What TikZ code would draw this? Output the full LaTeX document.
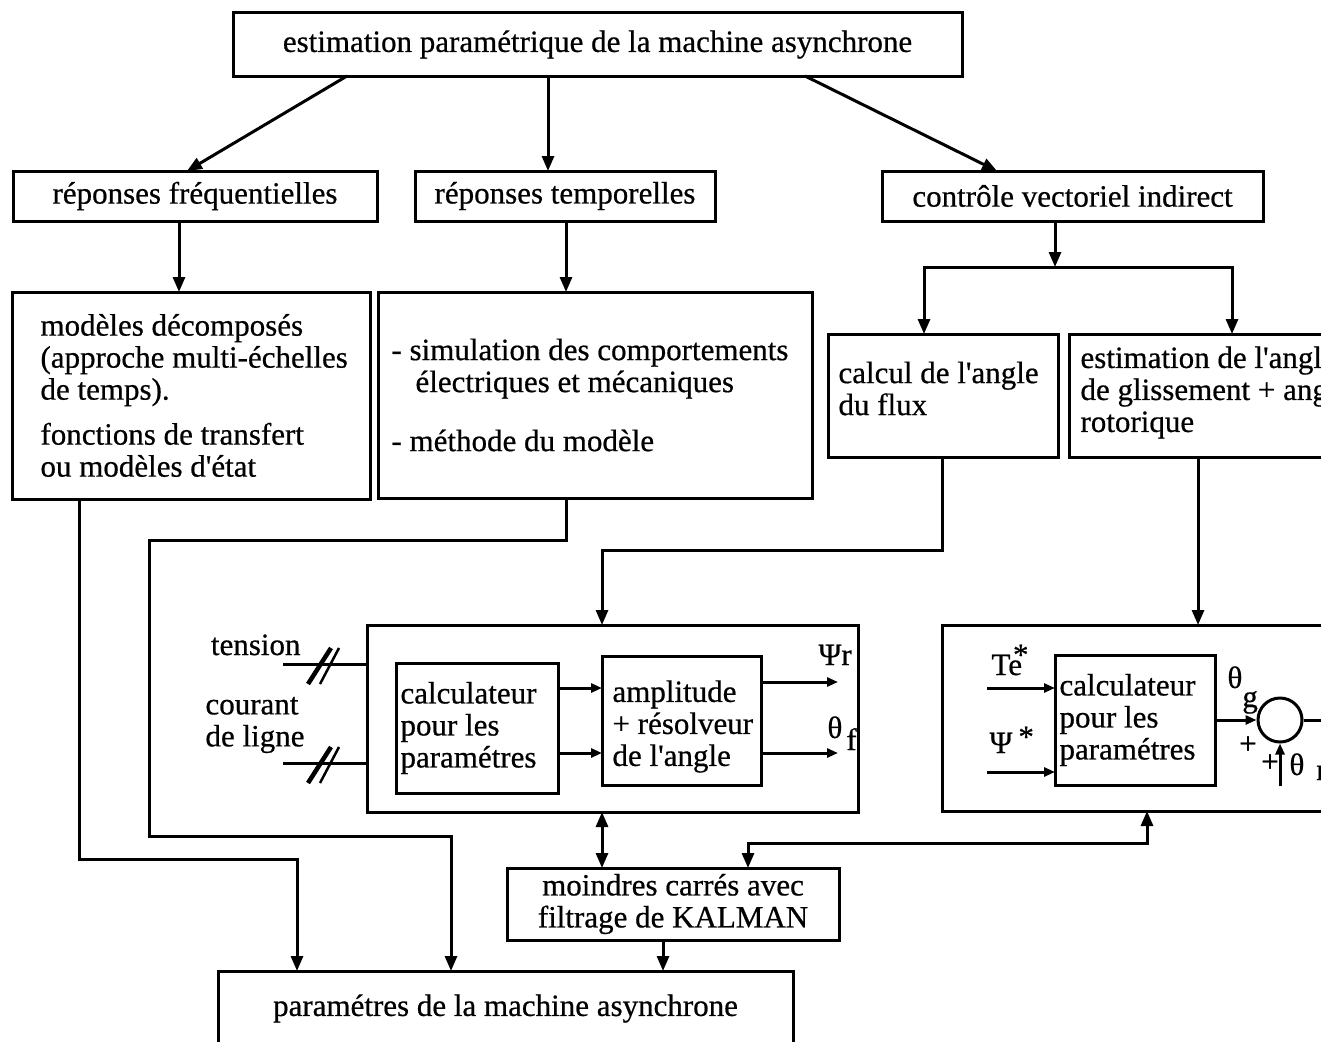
\documentclass[tikz,border=0pt]{standalone}
\usepackage{fontspec}
\setmainfont{Liberation Serif}[Ligatures=TeXOff,FakeBold=0.6]
\usetikzlibrary{arrows.meta}

\begin{document}
\begin{tikzpicture}[->,>={Triangle[length=15pt,width=12pt]},x=1pt,y=-1pt,
    line width=3pt,font=\fontsize{31}{32}\selectfont,
    box/.style={draw,rectangle,inner sep=0pt,outer sep=0pt,anchor=north west,align=center},
    inside/.style={anchor=west,align=left,inner sep=0pt},
    lbl/.style={inner sep=0pt},
    small/.style={>={Triangle[length=11pt,width=9pt]}}]

  \useasboundingbox (0,0) rectangle (1321,1041);

  % top and first level
  \node[box,minimum width=729pt,minimum height=63pt] (est) at (233,13) {estimation paramétrique de la machine asynchrone};
  \node[box,minimum width=364pt,minimum height=50pt] (freq) at (13,171) {réponses fréquentielles};
  \node[box,minimum width=300pt,minimum height=50pt] (temp) at (415,171) {réponses temporelles};
  \node[box,minimum width=381pt,minimum height=50pt] (ctrl) at (882,171) {contrôle vectoriel indirect};

  % second level
  \node[box,minimum width=358pt,minimum height=207pt,
    label={[inside,xshift=27pt]west:{modèles décomposés\\(approche multi-échelles\\de temps).\\[13pt]fonctions de transfert\\ou modèles d'état}}] (modeles) at (12,292) {};
  \node[box,minimum width=434pt,minimum height=206pt,
    label={[inside,xshift=12pt]west:{- simulation des comportements\\\hspace*{24pt}électriques et mécaniques\\[27pt]- méthode du modèle}}] (simul) at (378,292) {};
  \node[box,minimum width=230pt,minimum height=123pt,
    label={[inside,xshift=9pt,yshift=7pt]west:{calcul de l'angle\\du flux}}] (flux) at (828,334) {};
  \node[box,minimum width=400pt,minimum height=123pt,
    label={[inside,xshift=10pt,yshift=3pt]west:{estimation de l'angle\\de glissement + angle\\rotorique}}] (glis) at (1069,334) {};

  % flux observer
  \node[box,minimum width=491pt,minimum height=187pt] (obsL) at (367,625) {};
  \node[box,minimum width=162pt,minimum height=130pt,
    label={[inside,xshift=3pt]west:{calculateur\\pour les\\paramétres}}] (calcL) at (396,663) {};
  \node[box,minimum width=159pt,minimum height=129pt,
    label={[inside,xshift=9pt,yshift=-6pt]west:{amplitude\\+ résolveur\\de l'angle}}] (ampl) at (602,656) {};

  % slip angle block
  \node[box,minimum width=500pt,minimum height=186pt] (obsR) at (942,625) {};
  \node[box,minimum width=160pt,minimum height=130pt,
    label={[inside,xshift=3pt]west:{calculateur\\pour les\\paramétres}}] (calcR) at (1055,655) {};
  \node[draw,circle,minimum size=44pt,inner sep=0pt] (sum) at (1280,720) {};

  \node[box,minimum width=332pt,minimum height=72pt] (kalman) at (507,868) {moindres carrés avec\\filtrage de KALMAN};
  \node[box,minimum width=575pt,minimum height=75pt] (param) at (218,971) {paramétres de la machine asynchrone};

  % tree
  \draw ([xshift=114pt]est.south west) -- ([xshift=174pt]freq.north west);
  \draw ([xshift=315pt]est.south west) -- ([xshift=133pt]temp.north west);
  \draw ([xshift=572pt]est.south west) -- ([xshift=115pt]ctrl.north west);
  \draw ([xshift=166pt]freq.south west) -- ([xshift=167pt]modeles.north west);
  \draw ([xshift=151pt]temp.south west) -- ([xshift=188pt]simul.north west);

  \coordinate (fork) at (1055,267);
  \draw ([xshift=173pt]ctrl.south west) -- (fork);
  \draw (fork) -| ([xshift=96pt]flux.north west);
  \draw (fork) -| ([xshift=163pt]glis.north west);

  \draw ([xshift=114pt]flux.south west) -- ++(0,93) -| ([xshift=235pt]obsL.north west);
  \draw ([xshift=129pt]glis.south west) -- ([xshift=256pt]obsR.north west);

  % down to the parameters
  \draw ([xshift=67pt]modeles.south west) -- ++(0,360) -| ([xshift=79pt]param.north west);
  \draw ([xshift=188pt]simul.south west) -- ++(0,42) -| ++(-417,296) -| ([xshift=233pt]param.north west);
  \draw[<->] ([xshift=235pt]obsL.south west) -- ([xshift=95pt]kalman.north west);
  \draw[<->] ([xshift=205pt]obsR.south west) -- ++(0,32) -| ([xshift=241pt]kalman.north west);
  \draw ([xshift=156pt]kalman.south west) -- ([xshift=445pt]param.north west);

  % measured inputs
  \coordinate (tens) at (283,664);
  \coordinate (cour) at (283,763);
  \draw[-] (tens) -- (tens -| obsL.west);
  \draw[-] (cour) -- (cour -| obsL.west);
  \foreach \y in {664,763} {
    \draw[-,line width=4.5pt] (308,\y+20) -- (331,\y-16);
    \draw[-,line width=2.5pt] (320,\y+20) -- (339,\y-16);
  }
  \node[lbl,anchor=base east] (tension) at (302,655) {tension};
  \node[lbl,anchor=west,align=left] (courant) at (204,725) {courant\\de ligne};

  \draw[small] ([yshift=-25pt]calcL.north east) -- ([yshift=-32pt]ampl.north west);
  \draw[small] ([yshift=-90pt]calcL.north east) -- ([yshift=-97pt]ampl.north west);
  \coordinate (psi) at (838,682);
  \coordinate (thf) at (838,753);
  \draw[small] (ampl.east |- psi) -- (psi);
  \draw[small] (ampl.east |- thf) -- (thf);
  \node[lbl,anchor=base west] (psilbl) at (817,665) {Ψr};
  \node[lbl,anchor=base west] (thflbl) at (826,738) {θ\hspace{4pt}\raisebox{-12pt}{f}};

  % references and slip angle sum
  \coordinate (te) at (987,688);
  \coordinate (psis) at (987,772);
  \draw[small] (te) -- (te -| calcR.west);
  \draw[small] (psis) -- (psis -| calcR.west);
  \node[lbl,anchor=base west] (telbl) at (990,675) {Te\kern-9pt\raisebox{10pt}{*}};
  \node[lbl,anchor=base west] (psislbl) at (988,753) {Ψ\hspace{6pt}\raisebox{6pt}{*}};

  \draw[small] (sum.west -| calcR.east) -- (sum.west);
  \draw[-] (sum.east) -- ++(30,0);
  \coordinate (thr) at (1280,786);
  \draw[small] (thr) -- (sum.south);
  \node[lbl,anchor=base west] (thglbl) at (1226,688) {θ\raisebox{-19pt}{g}};
  \node[lbl] (plus1) at (1248,745) {+};
  \node[lbl] (plus2) at (1270,763) {+};
  \node[lbl,anchor=base west] (thrlbl) at (1288,775) {θ\hspace{12pt}\raisebox{-5pt}{r}};

\end{tikzpicture}
\end{document}
